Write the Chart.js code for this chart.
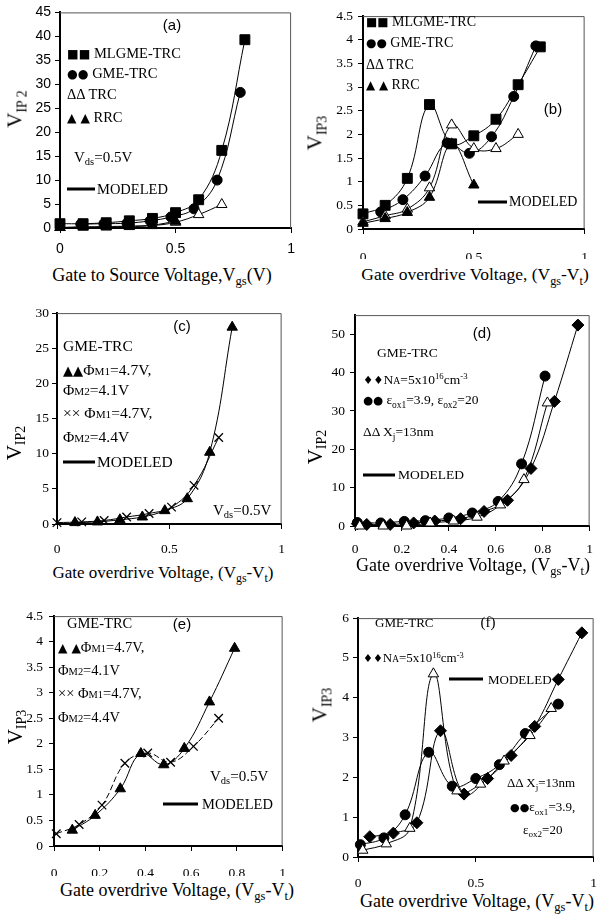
<!DOCTYPE html>
<html>
<head>
<meta charset="utf-8">
<script src="https://cdn.jsdelivr.net/npm/chart.js@4.4.0/dist/chart.umd.min.js"></script>
<style>
body { margin: 0; background: #fff; width: 601px; height: 915px; position: relative; overflow: hidden; }
canvas { position: absolute; }
.t { position: absolute; white-space: nowrap; font-family: 'Liberation Serif', serif; line-height: 1; transform: translateY(-50%); color: #000; }
.c { transform: translate(-50%, -50%); }
.r { transform: translate(-50%, -50%) rotate(-90deg); }
.s { font-family: 'Liberation Sans', sans-serif; }
.m { font-family: 'DejaVu Sans', sans-serif; font-size: 0.85em; }
.k { font-size: 0.72em; }
sub { font-size: 70%; vertical-align: -0.35em; line-height: 0; }
sup { font-size: 65%; vertical-align: 0.55em; line-height: 0; }
.ml { position: absolute; height: 3px; background: #000; transform: translateY(-50%); }
.yt { font-size: 21px; }
.yt sub { font-size: 14px; }
</style>
</head>
<body>
<canvas id="ca"></canvas>
<canvas id="cb"></canvas>
<canvas id="cc"></canvas>
<canvas id="cd"></canvas>
<canvas id="ce"></canvas>
<canvas id="cf"></canvas>

<!-- (a) -->
<div class="t c s" style="left:172px;top:24px;font-size:15px">(a)</div>
<div class="t" style="left:67px;top:53px;font-size:14.5px"><span class="m">■■</span> MLGME-TRC</div>
<div class="t" style="left:67px;top:73px;font-size:14.5px"><span class="m">●●</span> GME-TRC</div>
<div class="t" style="left:67px;top:94px;font-size:14.5px">ΔΔ TRC</div>
<div class="t" style="left:67px;top:117px;font-size:14.5px"><span class="m">▲ ▲</span> RRC</div>
<div class="t" style="left:74px;top:157px;font-size:15px">V<sub>ds</sub>=0.5V</div>
<div class="ml" style="left:67px;top:189px;width:28px"></div>
<div class="t" style="left:97px;top:189px;font-size:14.5px">MODELED</div>
<div class="t c" style="left:162px;top:275px;font-size:18px">Gate to Source Voltage,V<sub>gs</sub>(V)</div>
<div class="t r yt" style="left:15px;top:109px">V<sub>IP 2</sub></div>

<!-- (b) -->
<div class="t c s" style="left:553px;top:108px;font-size:15px">(b)</div>
<div class="t" style="left:366px;top:22px;font-size:14px"><span class="m">■■</span> MLGME-TRC</div>
<div class="t" style="left:366px;top:43px;font-size:14px"><span class="m">●●</span> GME-TRC</div>
<div class="t" style="left:366px;top:65px;font-size:14px">ΔΔ TRC</div>
<div class="t" style="left:366px;top:85px;font-size:14px"><span class="m">▲ ▲</span> RRC</div>
<div class="ml" style="left:478px;top:202px;width:29px"></div>
<div class="t" style="left:509px;top:202px;font-size:14px">MODELED</div>
<div class="t c" style="left:475px;top:275px;font-size:17.5px">Gate overdrive Voltage, (V<sub>gs</sub>-V<sub>t</sub>)</div>
<div class="t r yt" style="left:315px;top:133px">V<sub>IP3</sub></div>

<!-- (c) -->
<div class="t c s" style="left:182px;top:325px;font-size:15px">(c)</div>
<div class="t" style="left:63px;top:346px;font-size:15.5px">GME-TRC</div>
<div class="t" style="left:63px;top:370px;font-size:15.5px"><span class="m">▲▲</span>Φ<span class="k">M1</span>=4.7V,</div>
<div class="t" style="left:63px;top:390px;font-size:15.5px">Φ<span class="k">M2</span>=4.1V</div>
<div class="t" style="left:63px;top:413px;font-size:15.5px">×× Φ<span class="k">M1</span>=4.7V,</div>
<div class="t" style="left:63px;top:437px;font-size:15.5px">Φ<span class="k">M2</span>=4.4V</div>
<div class="ml" style="left:63px;top:462px;width:32px"></div>
<div class="t" style="left:97px;top:462px;font-size:15.5px">MODELED</div>
<div class="t" style="left:213px;top:510px;font-size:15px">V<sub>ds</sub>=0.5V</div>
<div class="t c" style="left:163px;top:572px;font-size:17px">Gate overdrive Voltage, (V<sub>gs</sub>-V<sub>t</sub>)</div>
<div class="t r yt" style="left:14px;top:443px">V<sub>IP2</sub></div>

<!-- (d) -->
<div class="t c s" style="left:482px;top:332px;font-size:15px">(d)</div>
<div class="t" style="left:377px;top:353px;font-size:13.5px">GME-TRC</div>
<div class="t" style="left:363px;top:380px;font-size:13.5px"><span class="m">♦♦</span>N<span class="k">A</span>=5x10<sup>16</sup>cm<sup>-3</sup></div>
<div class="t" style="left:363px;top:400px;font-size:13.5px"><span class="m">●●</span> ε<sub>ox1</sub>=3.9, ε<sub>ox2</sub>=20</div>
<div class="t" style="left:363px;top:432px;font-size:13.5px">ΔΔ X<sub>j</sub>=13nm</div>
<div class="ml" style="left:363px;top:475px;width:32px"></div>
<div class="t" style="left:398px;top:475px;font-size:13.5px">MODELED</div>
<div class="t c" style="left:473px;top:565px;font-size:18px">Gate overdrive Voltage, (V<sub>gs</sub>-V<sub>t</sub>)</div>
<div class="t r yt" style="left:315px;top:447px">V<sub>IP2</sub></div>

<!-- (e) -->
<div class="t c s" style="left:182px;top:623px;font-size:15px">(e)</div>
<div class="t" style="left:67px;top:623px;font-size:14.5px">GME-TRC</div>
<div class="t" style="left:58px;top:647px;font-size:14.5px"><span class="m">▲ ▲</span>Φ<span class="k">M1</span>=4.7V,</div>
<div class="t" style="left:58px;top:670px;font-size:14.5px">Φ<span class="k">M2</span>=4.1V</div>
<div class="t" style="left:58px;top:693px;font-size:14.5px">×× Φ<span class="k">M1</span>=4.7V,</div>
<div class="t" style="left:58px;top:717px;font-size:14.5px">Φ<span class="k">M2</span>=4.4V</div>
<div class="t" style="left:210px;top:776px;font-size:15px">V<sub>ds</sub>=0.5V</div>
<div class="ml" style="left:163px;top:804px;width:35px"></div>
<div class="t" style="left:202px;top:804px;font-size:14.5px">MODELED</div>
<div class="t c" style="left:177px;top:890px;font-size:18px">Gate overdrive Voltage, (V<sub>gs</sub>-V<sub>t</sub>)</div>
<div class="t r yt" style="left:15px;top:727px">V<sub>IP3</sub></div>

<!-- (f) -->
<div class="t c" style="left:488px;top:622px;font-size:15px">(f)</div>
<div class="t" style="left:375px;top:622px;font-size:13px">GME-TRC</div>
<div class="t" style="left:363px;top:658px;font-size:13px"><span class="m">♦♦</span>N<span class="k">A</span>=5x10<sup>16</sup>cm<sup>-3</sup></div>
<div class="ml" style="left:449px;top:679px;width:34px"></div>
<div class="t" style="left:488px;top:679px;font-size:13px">MODELED</div>
<div class="t" style="left:507px;top:782px;font-size:13px">ΔΔ X<sub>j</sub>=13nm</div>
<div class="t" style="left:510px;top:807px;font-size:13px"><span class="m">●●</span>ε<sub>ox1</sub>=3.9,</div>
<div class="t" style="left:523px;top:829px;font-size:13px">ε<sub>ox2</sub>=20</div>
<div class="t c" style="left:477px;top:901px;font-size:18px">Gate overdrive Voltage, (V<sub>gs</sub>-V<sub>t</sub>)</div>
<div class="t r yt" style="left:320px;top:705px">V<sub>IP3</sub></div>

<script>
// (a) V_IP2 vs Vgs
const aSqX = [0, 0.1, 0.2, 0.3, 0.4, 0.5, 0.6, 0.7, 0.8];
const aSqY = [0.9, 0.9, 1.1, 1.5, 2.0, 3.2, 5.9, 16.2, 39.3];
const aCiX = [0.09, 0.19, 0.29, 0.39, 0.48, 0.58, 0.68, 0.78];
const aCiY = [0.8, 0.9, 1.0, 1.5, 2.3, 4.0, 10.0, 28.3];
const aTrX = [0, 0.1, 0.2, 0.3, 0.4, 0.5, 0.6, 0.7];
const aTrY = [0.1, 0.2, 0.2, 0.3, 0.5, 1.2, 2.8, 4.9];
const aRrX = [0, 0.1, 0.2, 0.3, 0.4, 0.5];
const aRrY = [0.1, 0.2, 0.3, 0.4, 0.6, 1.4];
const aXTicks = [0, 0.5, 1];
const aYTicks = [0, 5, 10, 15, 20, 25, 30, 35, 40, 45];

// (b) V_IP3
const bSqX = [0, 0.1, 0.2, 0.3, 0.4, 0.5, 0.6, 0.7, 0.8];
const bSqY = [0.32, 0.5, 1.07, 2.63, 1.8, 1.97, 2.32, 3.05, 3.85];
const bCiX = [0.08, 0.18, 0.28, 0.38, 0.48, 0.58, 0.68, 0.78];
const bCiY = [0.36, 0.62, 1.12, 1.82, 1.6, 1.95, 2.8, 3.87];
const bTrX = [0, 0.1, 0.2, 0.3, 0.4, 0.5, 0.6, 0.7];
const bTrY = [0.15, 0.28, 0.42, 0.87, 2.2, 1.7, 1.7, 2.0];
const bRrX = [0, 0.1, 0.2, 0.3, 0.4, 0.5];
const bRrY = [0.12, 0.22, 0.35, 0.67, 1.8, 0.93];
const bXTicks = [0, 0.5, 1];
const bYTicks = [0, 0.5, 1, 1.5, 2, 2.5, 3, 3.5, 4, 4.5];

// (c) V_IP2, work functions
const cTrX = [0.08, 0.18, 0.28, 0.38, 0.48, 0.58, 0.68, 0.78];
const cTrY = [0.2, 0.3, 0.6, 1.0, 1.9, 3.6, 10.2, 28.0];
const cCrX = [0, 0.11, 0.21, 0.31, 0.41, 0.51, 0.61, 0.72];
const cCrY = [0.2, 0.3, 0.5, 1.0, 1.5, 2.4, 5.5, 12.3];
const cXTicks = [0, 0.5, 1];
const cYTicks = [0, 5, 10, 15, 20, 25, 30];

// (d) V_IP2, NA / eps / Xj
const dDiX = [0.01, 0.05, 0.15, 0.25, 0.34, 0.45, 0.55, 0.65, 0.75, 0.85, 0.95];
const dDiY = [0.6, 0.4, 0.4, 0.8, 1.3, 1.9, 3.8, 6.7, 15.0, 32.5, 52.4];
const dCiX = [0.01, 0.11, 0.21, 0.3, 0.4, 0.5, 0.61, 0.71, 0.81];
const dCiY = [0.9, 0.8, 1.2, 1.4, 2.1, 3.4, 6.4, 16.2, 39.1];
const dTrX = [0.02, 0.12, 0.22, 0.32, 0.42, 0.52, 0.62, 0.72, 0.82];
const dTrY = [0, 0, 0, 0.8, 1.3, 2.3, 5.5, 12.1, 32.1];
const dXTicks = [0, 0.2, 0.4, 0.6, 0.8, 1];
const dYTicks = [0, 10, 20, 30, 40, 50];

// (e) V_IP3, work functions
const eTrX = [0.08, 0.18, 0.29, 0.38, 0.48, 0.57, 0.68, 0.79];
const eTrY = [0.31, 0.6, 1.12, 1.81, 1.59, 1.91, 2.82, 3.87];
const eCrX = [0.01, 0.11, 0.21, 0.31, 0.41, 0.51, 0.61, 0.72];
const eCrY = [0.24, 0.42, 0.8, 1.62, 1.82, 1.64, 1.95, 2.5];
const eXTicks = [0, 0.2, 0.4, 0.6, 0.8, 1];
const eYTicks = [0, 0.5, 1, 1.5, 2, 2.5, 3, 3.5, 4, 4.5];

// (f) V_IP3, NA / eps / Xj
const fDiX = [0.05, 0.15, 0.25, 0.35, 0.45, 0.55, 0.65, 0.75, 0.85, 0.95];
const fDiY = [0.51, 0.6, 0.86, 3.17, 1.58, 1.97, 2.55, 3.28, 4.46, 5.63];
const fCiX = [0.01, 0.11, 0.2, 0.3, 0.4, 0.5, 0.6, 0.71, 0.85];
const fCiY = [0.31, 0.48, 1.06, 2.63, 1.78, 1.97, 2.32, 3.1, 3.84];
const fTrX = [0.02, 0.12, 0.22, 0.32, 0.42, 0.52, 0.62, 0.73, 0.82];
const fTrY = [0.17, 0.33, 0.72, 4.6, 1.66, 1.83, 2.41, 3.05, 3.73];
const fXTicks = [0, 0.5, 1];
const fYTicks = [0, 1, 2, 3, 4, 5, 6];

const sansTick = { family: 'Liberation Sans', size: 14 };
const serifTick = { family: 'Liberation Serif', size: 13.5 };

// thin top/right edge of the plot box
const frame = {
  id: 'frame',
  beforeDatasetsDraw(c) {
    const a = c.chartArea, g = c.ctx;
    g.save();
    g.strokeStyle = '#555';
    g.lineWidth = 1;
    g.beginPath();
    g.moveTo(a.left, a.top + 0.5);
    g.lineTo(a.right - 0.5, a.top + 0.5);
    g.lineTo(a.right - 0.5, a.bottom);
    g.stroke();
    g.restore();
  }
};

function ser(xs, ys, shape, fill, r, dash) {
  return {
    data: xs.map((x, i) => ({ x: x, y: ys[i] })),
    showLine: true,
    borderColor: '#000',
    borderWidth: 1,
    borderDash: dash || [],
    tension: 0.4,
    pointStyle: shape,
    pointRadius: r,
    pointBackgroundColor: fill,
    pointBorderColor: '#000',
    pointBorderWidth: shape === 'crossRot' ? 1.3 : 1,
    clip: false
  };
}

function panel(id, box, xt, yt, ymax, font, xpad, ypad, sets) {
  const L = box[0], T = box[1], R = box[2], B = box[3];
  const cv = document.getElementById(id);
  cv.width = R - L + 60;
  cv.height = B - T + 40;
  cv.style.left = (L - 50) + 'px';
  cv.style.top = (T - 10) + 'px';
  const grid = { display: true, drawOnChartArea: false, drawTicks: true, tickLength: 5, color: '#000' };
  const border = { color: '#000', width: 2 };
  new Chart(cv, {
    type: 'scatter',
    data: { datasets: sets },
    options: {
      responsive: false,
      animation: false,
      events: [],
      layout: { padding: { top: 10, right: 10, left: 0, bottom: 0 } },
      plugins: { legend: { display: false }, tooltip: { enabled: false } },
      scales: {
        x: {
          type: 'linear', min: 0, max: 1,
          afterFit: s => { s.height = 30; },
          afterBuildTicks: s => { s.ticks = xt.map(v => ({ value: v })); },
          ticks: { color: '#000', font: font, padding: xpad, autoSkip: false, maxRotation: 0, callback: v => String(v) },
          grid: grid, border: border
        },
        y: {
          type: 'linear', min: 0, max: ymax,
          afterFit: s => { s.width = 50; },
          afterBuildTicks: s => { s.ticks = yt.map(v => ({ value: v })); },
          ticks: { color: '#000', font: font, padding: ypad, autoSkip: false, callback: v => String(v) },
          grid: grid, border: border
        }
      }
    },
    plugins: [frame]
  });
}

panel('ca', [60, 10, 293, 228], aXTicks, aYTicks, 45, sansTick, 8, 4, [
  ser(aRrX, aRrY, 'triangle', '#000', 6),
  ser(aTrX, aTrY, 'triangle', '#fff', 6),
  ser(aCiX, aCiY, 'circle', '#000', 5),
  ser(aSqX, aSqY, 'rect', '#000', 7)
]);

panel('cb', [363, 13, 593, 229], bXTicks, bYTicks, 4.5, serifTick, 15, 5, [
  ser(bRrX, bRrY, 'triangle', '#000', 6),
  ser(bTrX, bTrY, 'triangle', '#fff', 6),
  ser(bCiX, bCiY, 'circle', '#000', 5),
  ser(bSqX, bSqY, 'rect', '#000', 7)
]);

panel('cc', [57, 312, 287, 524], cXTicks, cYTicks, 30, serifTick, 12, 3, [
  ser(cCrX, cCrY, 'crossRot', '#000', 6),
  ser(cTrX, cTrY, 'triangle', '#000', 6)
]);

panel('cd', [355, 312, 593, 526], dXTicks, dYTicks, 55, serifTick, 10, 5, [
  ser(dTrX, dTrY, 'triangle', '#fff', 6),
  ser(dCiX, dCiY, 'circle', '#000', 5),
  ser(dDiX, dDiY, 'rectRot', '#000', 6)
]);

panel('ce', [54, 612, 290, 846], eXTicks, eYTicks, 4.5, serifTick, 14, 6, [
  ser(eCrX, eCrY, 'crossRot', '#000', 6, [6, 3]),
  ser(eTrX, eTrY, 'triangle', '#000', 6)
]);

panel('cf', [358, 616, 600, 857], fXTicks, fYTicks, 6, serifTick, 13, 4, [
  ser(fTrX, fTrY, 'triangle', '#fff', 6),
  ser(fCiX, fCiY, 'circle', '#000', 5),
  ser(fDiX, fDiY, 'rectRot', '#000', 6)
]);
</script>
</body>
</html>
